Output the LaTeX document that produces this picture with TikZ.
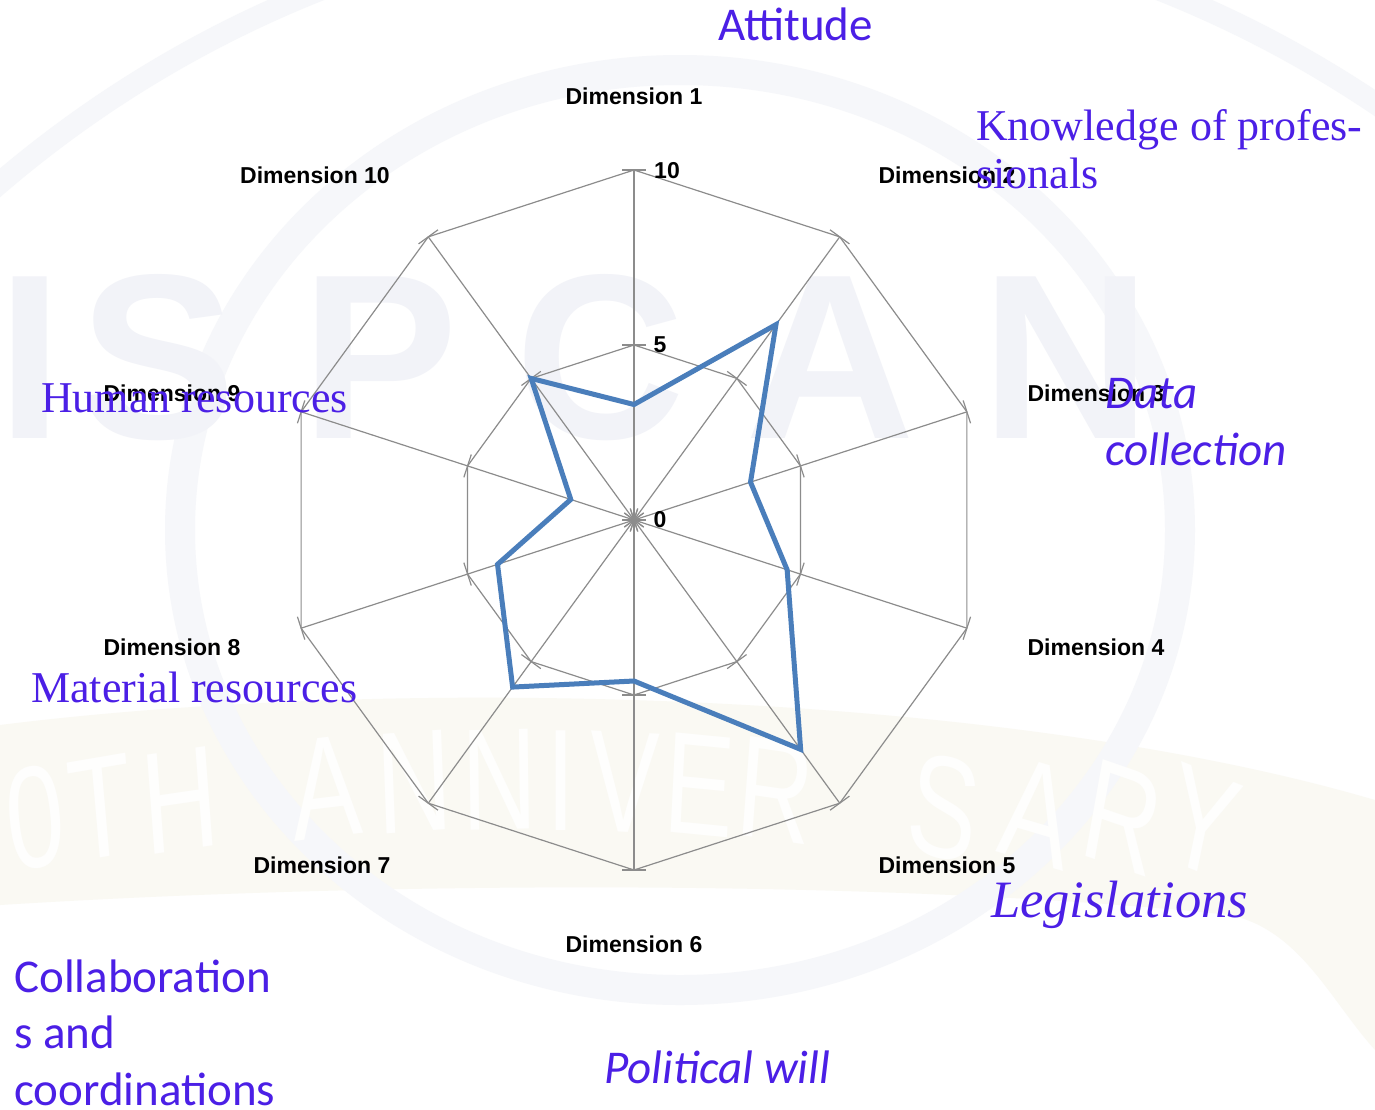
\documentclass[tikz,border=0pt]{standalone}
\usepackage{fontspec}
\setmainfont{Liberation Serif}
\newfontfamily\arialf{Liberation Sans}
\newfontfamily\carl{Carlito}
\usetikzlibrary{calc}
\definecolor{gridgray}{HTML}{8C8C8C}
\definecolor{serblue}{HTML}{4A7EBB}
\definecolor{annot}{HTML}{4B1FE6}
\definecolor{wmblue}{HTML}{F2F3F8}
\definecolor{wmring}{HTML}{F6F7FA}
\definecolor{wmbeige}{HTML}{FAF9F3}
\definecolor{wmletter}{HTML}{FEFEFD}
\begin{document}
\begin{tikzpicture}[x=1pt,y=-1pt,
  grid/.style={draw=gridgray, line width=1.2pt},
  dimlabel/.style={font=\arialf\bfseries\fontsize{23}{26}\selectfont, text=black, inner sep=0pt, anchor=center},
  axnum/.style={font=\arialf\bfseries\fontsize{23}{26}\selectfont, text=black, inner sep=0pt, anchor=center},
  series/.style={draw=serblue, line width=5pt, line join=miter},
  annot/.style={text=annot, inner sep=0pt, anchor=base west, align=left},
  wmbig/.style={font=\arialf\bfseries\fontsize{235}{240}\selectfont, text=wmblue, inner sep=0pt, anchor=base},
  wmann/.style={font=\arialf\fontsize{145}{150}\selectfont, text=wmletter, inner sep=0pt, anchor=base, xscale=0.72}
]
\useasboundingbox[fill=white] (0,0) rectangle (1375,1109);

% ---- faint watermark ----
\begin{scope}
\clip (0,0) rectangle (1375,1109);
\draw[wmring, line width=22pt] (740,1050) circle[radius=1140pt];
\fill[wmbeige] (0,725) .. controls (400,675) and (1000,690) .. (1375,800)
  -- (1375,1050) .. controls (1330,1000) and (1300,930) .. (1230,915)
  .. controls (900,880) and (400,880) .. (0,905) -- cycle;
\draw[wmring, line width=30pt] (680,530) ellipse[x radius=500pt, y radius=460pt];
\node[wmbig] (wI) at (30,438) {I};
\node[wmbig] (wS) at (158,438) {S};
\node[wmbig] (wP) at (380,438) {P};
\node[wmbig] (wC) at (600,438) {C};
\node[wmbig] (wA) at (830,438) {A};
\node[wmbig] (wN) at (1066,438) {N};
\foreach \ch/\xx/\yy/\rot in {0/40/867/8, T/105/857/7, H/184/850/6, A/329/837/5, N/416/832/3, N/500/830/1, I/561/830/0, V/623/832/-2, E/697/835/-4, R/772/840/-6, S/938/857/-10, A/1030/862/-12, R/1114/866/-14, Y/1193/870/-16}
  \node[wmann, rotate=\rot] at (\xx,\yy) {\ch};
\end{scope}

% ---- radar grid ----
\coordinate (O) at (634,520);
\foreach \i in {0,...,9} {
  \coordinate (s\i) at ($(O)+({90-36*\i}:350pt)$);
  \coordinate (m\i) at ($(O)+({90-36*\i}:175pt)$);
}
\draw[grid] (s0) -- (s1) -- (s2) -- (s3) -- (s4) -- (s5) -- (s6) -- (s7) -- (s8) -- (s9) -- cycle;
\draw[grid] (m0) -- (m1) -- (m2) -- (m3) -- (m4) -- (m5) -- (m6) -- (m7) -- (m8) -- (m9) -- cycle;
\foreach \i in {0,...,9} \draw[grid] (O) -- (s\i);
\foreach \i in {0,...,9} {
  \foreach \r in {0,175,350} {
    \draw[grid] ($(O)+({90-36*\i}:\r pt)+({180-36*\i}:12pt)$) -- ($(O)+({90-36*\i}:\r pt)+({-36*\i}:12pt)$);
  }
}

% ---- axis numbers ----
\node[axnum] (n10) at (667,171) {10};
\node[axnum] (n5) at (660,345) {5};
\node[axnum] (n0) at (660,520) {0};

% ---- data series ----
\foreach \i/\v in {0/3.3, 1/6.9, 2/3.5, 3/4.6, 4/8.1, 5/4.6, 6/5.9, 7/4.1, 8/1.9, 9/5.0} {
  \pgfmathsetmacro\rr{35*\v}
  \coordinate (d\i) at ($(O)+({90-36*\i}:\rr pt)$);
}
\draw[series] (d0) -- (d1) -- (d2) -- (d3) -- (d4) -- (d5) -- (d6) -- (d7) -- (d8) -- (d9) -- cycle;

% ---- dimension labels ----
\node[dimlabel] (L1) at (634,96) {Dimension 1};
\node[dimlabel] (L2) at (947,175) {Dimension 2};
\node[dimlabel] (L3) at (1096,393) {Dimension 3};
\node[dimlabel] (L4) at (1096,647) {Dimension 4};
\node[dimlabel] (L5) at (947,865) {Dimension 5};
\node[dimlabel] (L6) at (634,944) {Dimension 6};
\node[dimlabel] (L7) at (322,865) {Dimension 7};
\node[dimlabel] (L8) at (172,647) {Dimension 8};
\node[dimlabel] (L9) at (172,393) {Dimension 9};
\node[dimlabel] (L10) at (315,175) {Dimension 10};

% ---- blue annotations (anchor = baseline of last line) ----
\node[annot, font=\carl\fontsize{47}{48}\selectfont] (tAtt) at (718,40) {Attitude};
\node[annot, font=\fontsize{44}{48}\selectfont] (tKnow) at (976,188) {Knowledge of profes-\\sionals};
\node[annot, font=\carl\itshape\fontsize{47}{57}\selectfont] (tData) at (1105,465) {Data\\collection};
\node[annot, font=\fontsize{44}{48}\selectfont] (tHum) at (41,412) {Human resources};
\node[annot, font=\fontsize{44}{48}\selectfont] (tMat) at (31,702) {Material resources};
\node[annot, font=\itshape\fontsize{52.5}{56}\selectfont] (tLeg) at (991,917) {Legislations};
\node[annot, font=\carl\itshape\fontsize{47}{48}\selectfont] (tPol) at (604,1083) {Political will};
\node[annot, font=\carl\fontsize{47}{56.5}\selectfont] (tCol) at (14,1105) {Collaboration\\s and\\coordinations};
\end{tikzpicture}
\end{document}
